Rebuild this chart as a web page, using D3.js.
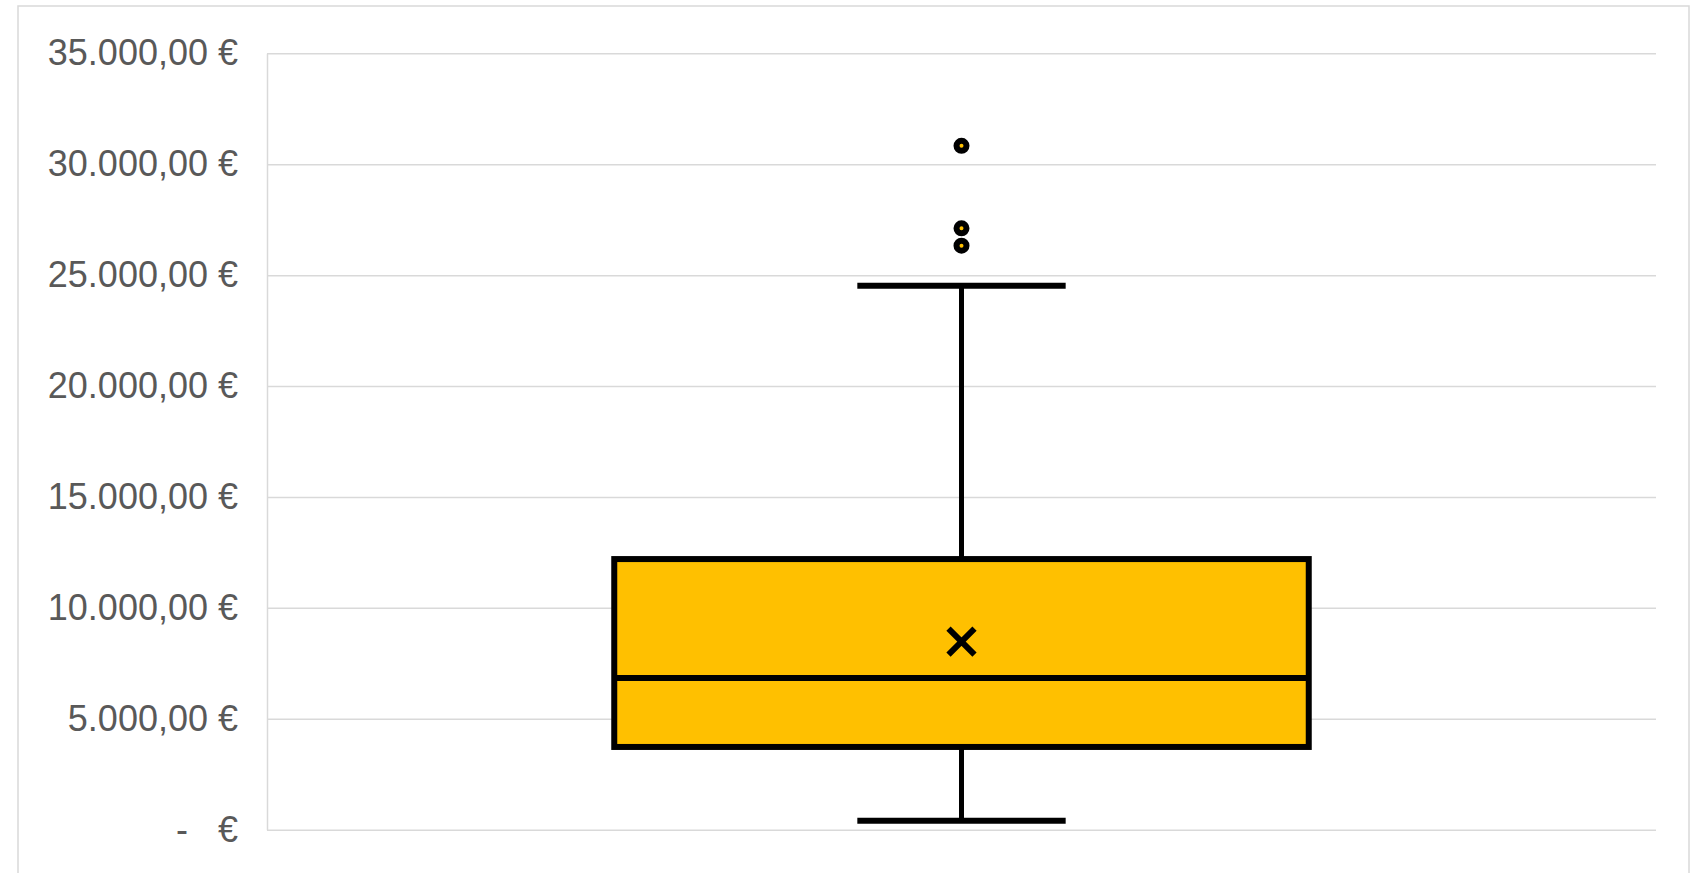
<!DOCTYPE html>
<html>
<head>
<meta charset="utf-8">
<script src="https://cdn.jsdelivr.net/npm/d3@7"></script>
<style>
  html, body { margin: 0; padding: 0; background: #fff; overflow: hidden; }
  svg { display: block; }
</style>
</head>
<body>
<div id="viz"></div>
<script>
// values
const categories = ['Gehalt'];
const whiskerLow = [405];
const q1 = [3730];
const median = [6840];
const q3 = [12200];
const whiskerHigh = [24520];
const means = [8475];
const outliers = [[26330, 27110, 30830]];
const tickValues = [0, 5000, 10000, 15000, 20000, 25000, 30000, 35000];

const WIDTH = 1694;
const HEIGHT = 873;
const PLOT = { left: 267, right: 1656, top: 53.3, bottom: 829.7 };
const FILL = '#FFC000';

const de = d3.formatLocale({ decimal: ',', thousands: '.', grouping: [3], currency: ['', ' €'] });
const fmt = de.format(',.2f');
const tickFormat = d => (d === 0 ? '-   €' : `${fmt(d)} €`);

const rows = categories.map((c, i) => ({
  cat: c, lo: whiskerLow[i], q1: q1[i], med: median[i], q3: q3[i],
  hi: whiskerHigh[i], mean: means[i], out: outliers[i]
}));

const svg = d3.select('#viz').append('svg')
  .attr('width', WIDTH)
  .attr('height', HEIGHT);

// chart frame
svg.append('rect')
  .attr('x', 18).attr('y', 6)
  .attr('width', 1671).attr('height', 900)
  .attr('fill', '#fff')
  .attr('stroke', '#d9d9d9')
  .attr('stroke-width', 1.5);

const x = d3.scaleBand()
  .domain(categories)
  .range([PLOT.left, PLOT.right])
  .padding(0);

const y = d3.scaleLinear()
  .domain([0, 35000])
  .range([PLOT.bottom, PLOT.top]);

// y axis with gridlines
const yAxis = d3.axisLeft(y)
  .tickValues(tickValues)
  .tickFormat(tickFormat)
  .tickSize(-(PLOT.right - PLOT.left))
  .tickSizeOuter(0)
  .tickPadding(29);

const gy = svg.append('g')
  .attr('class', 'yaxis')
  .attr('transform', `translate(${PLOT.left},0)`)
  .call(yAxis);

gy.select('.domain')
  .attr('stroke', '#d9d9d9')
  .attr('stroke-width', 1.5);
gy.selectAll('.tick line')
  .attr('stroke', '#d9d9d9')
  .attr('stroke-width', 1.5);
gy.selectAll('.tick text')
  .attr('fill', '#595959')
  .attr('font-family', '"Liberation Sans", Arial, sans-serif')
  .attr('font-size', '36px')
  .style('white-space', 'pre');

const boxes = svg.append('g')
  .attr('class', 'boxes')
  .selectAll('g')
  .data(rows)
  .join('g');

const boxW = x.bandwidth() * 0.5;
const capW = boxW * 0.3;
const cx = d => x(d.cat) + x.bandwidth() / 2;

// whiskers
boxes.append('line')
  .attr('x1', cx).attr('x2', cx)
  .attr('y1', d => y(d.lo)).attr('y2', d => y(d.q1))
  .attr('stroke', '#000').attr('stroke-width', 5);
boxes.append('line')
  .attr('x1', cx).attr('x2', cx)
  .attr('y1', d => y(d.q3)).attr('y2', d => y(d.hi))
  .attr('stroke', '#000').attr('stroke-width', 5);
boxes.append('line')
  .attr('x1', d => cx(d) - capW / 2).attr('x2', d => cx(d) + capW / 2)
  .attr('y1', d => y(d.lo)).attr('y2', d => y(d.lo))
  .attr('stroke', '#000').attr('stroke-width', 6);
boxes.append('line')
  .attr('x1', d => cx(d) - capW / 2).attr('x2', d => cx(d) + capW / 2)
  .attr('y1', d => y(d.hi)).attr('y2', d => y(d.hi))
  .attr('stroke', '#000').attr('stroke-width', 6);

// box
boxes.append('rect')
  .attr('x', d => cx(d) - boxW / 2)
  .attr('y', d => y(d.q3))
  .attr('width', boxW)
  .attr('height', d => y(d.q1) - y(d.q3))
  .attr('fill', FILL)
  .attr('stroke', '#000')
  .attr('stroke-width', 6);

// median
boxes.append('line')
  .attr('x1', d => cx(d) - boxW / 2).attr('x2', d => cx(d) + boxW / 2)
  .attr('y1', d => y(d.med)).attr('y2', d => y(d.med))
  .attr('stroke', '#000').attr('stroke-width', 6);

// mean marker (x)
const mk = 13;
boxes.append('path')
  .attr('d', d => {
    const px = cx(d), py = y(d.mean);
    return `M${px - mk},${py - mk}L${px + mk},${py + mk}M${px - mk},${py + mk}L${px + mk},${py - mk}`;
  })
  .attr('stroke', '#000')
  .attr('stroke-width', 6)
  .attr('fill', 'none');

// outliers
boxes.selectAll('circle')
  .data(d => d.out.map(v => ({ v, cat: d.cat })))
  .join('circle')
  .attr('cx', cx)
  .attr('cy', d => y(d.v))
  .attr('r', 5)
  .attr('fill', FILL)
  .attr('stroke', '#000')
  .attr('stroke-width', 6);
</script>
</body>
</html>
